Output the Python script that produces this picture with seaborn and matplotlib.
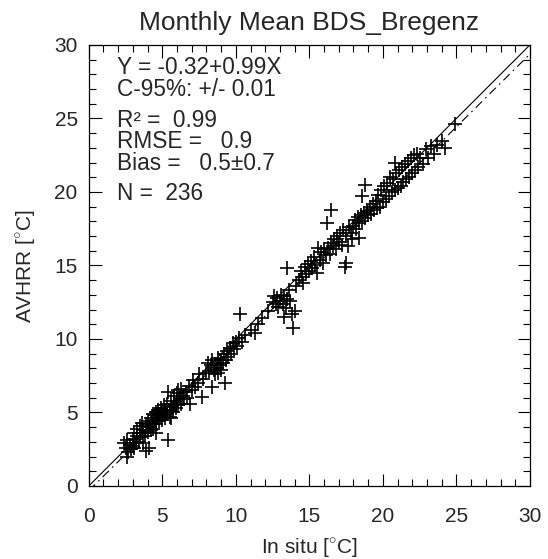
import numpy as np
import pandas as pd
import matplotlib
matplotlib.use("Agg")
import matplotlib.pyplot as plt
from matplotlib.ticker import MultipleLocator
import seaborn as sns

# In situ vs AVHRR monthly means (deg C)
in_situ = [
    # cluster around 2-4
    2.4, 2.5, 2.6, 2.7, 2.8, 2.9, 3.0, 3.0, 3.1, 3.2, 3.3, 3.3, 3.4, 3.5, 3.5,
    3.6, 3.7, 3.7, 3.8, 3.9, 3.9, 4.0, 4.0, 2.6, 3.1, 3.6, 4.1,
    # 4-6.5
    4.1, 4.2, 4.2, 4.3, 4.4, 4.4, 4.5, 4.5, 4.6, 4.6, 4.7, 4.7, 4.8, 4.8, 4.9,
    4.9, 5.0, 5.0, 5.1, 5.1, 5.2, 5.2, 5.3, 5.3, 5.4, 5.4, 5.5, 5.5, 5.6, 5.6,
    5.7, 5.8, 5.8, 5.9, 6.0, 6.0, 6.1, 6.2, 6.3, 6.3, 6.4, 6.5, 5.6, 6.1, 4.6,
    # 6.5-8
    6.6, 6.7, 6.8, 7.0, 7.1, 7.2, 7.4, 7.5, 7.7, 7.8, 8.0, 6.9,
    # 8-10.5
    8.1, 8.2, 8.3, 8.4, 8.4, 8.5, 8.6, 8.6, 8.7, 8.8, 8.8, 8.9, 9.0, 9.0, 9.1,
    9.25, 9.2, 9.3, 9.4, 9.5, 9.6, 9.7, 9.8, 9.9, 10.0, 10.1, 10.2, 10.4, 10.3, 10.6,
    # 11-14
    11.0, 11.3, 11.5, 11.8, 12.2, 12.5, 12.7, 12.8, 12.9, 13.0, 13.1, 13.2, 13.3,
    13.4, 13.5, 13.5, 13.6, 13.7, 13.8, 13.9, 14.0, 14.1, 13.3, 12.6,
    # 14-16.5
    14.3, 14.4, 14.5, 14.6, 14.7, 14.8, 14.9, 15.0, 15.1, 15.2, 15.3, 15.4, 15.5,
    15.6, 15.7, 15.8, 15.9, 16.0, 16.1, 16.2, 16.3, 16.4, 16.5, 16.5,
    # 16.5-19.5
    16.6, 16.7, 16.8, 16.9, 17.0, 17.1, 17.2, 17.3, 17.4, 17.5, 17.6, 17.7, 17.8,
    17.9, 18.0, 18.1, 18.2, 18.3, 18.4, 18.4, 18.5, 18.6, 18.6, 18.7, 18.8, 18.8,
    18.9, 19.0, 19.1, 19.2, 19.3, 19.4, 19.5, 17.5,
    # 19.5-23.5
    19.6, 19.7, 19.8, 19.9, 20.0, 20.1, 20.2, 20.3, 20.4, 20.5, 20.6, 20.7, 20.8,
    20.8, 20.9, 21.0, 21.1, 21.2, 21.3, 21.4, 21.5, 21.6, 21.7, 21.8, 21.9, 22.0,
    22.1, 22.2, 22.3, 22.4, 22.5, 22.7, 22.9, 23.1, 23.3, 23.5,
    # top end
    23.7, 24.0, 24.2, 24.9,
]
avhrr = [
    2.9, 2.6, 3.1, 2.3, 2.8, 2.5, 3.2, 2.7, 3.6, 2.9, 3.4, 3.9, 3.0, 3.3, 4.1,
    3.6, 2.9, 3.8, 3.4, 4.2, 2.4, 3.7, 4.4, 2.0, 2.6, 4.3, 2.6,
    4.0, 4.6, 3.8, 4.3, 4.9, 3.9, 4.5, 4.8, 4.2, 5.0, 4.6, 5.2, 4.4, 4.9, 4.7,
    5.3, 4.5, 5.0, 4.8, 5.5, 4.6, 5.1, 4.9, 5.6, 6.4, 3.1, 5.2, 4.7, 5.8, 5.4,
    5.0, 5.6, 6.1, 5.3, 5.8, 6.3, 5.5, 6.0, 5.6, 6.6, 6.1, 5.9, 4.6, 6.5, 3.6,
    6.4, 6.0, 6.8, 6.5, 7.2, 6.7, 7.0, 7.6, 6.05, 7.3, 7.7, 5.6,
    8.4, 7.8, 8.2, 6.7, 8.6, 7.9, 8.3, 7.6, 8.0, 8.7, 7.7, 8.2, 7.9, 8.6, 8.4,
    7.0, 9.0, 8.6, 9.2, 8.8, 9.4, 9.0, 9.7, 9.3, 9.8, 9.5, 10.1, 9.8, 11.7, 10.3,
    10.6, 10.4, 11.0, 11.4, 11.9, 12.5, 12.4, 12.8, 12.2, 12.6, 13.0, 12.4, 12.9,
    12.1, 14.8, 12.7, 13.3, 12.6, 11.7, 10.75, 11.9, 13.6, 11.5, 12.9,
    14.0, 14.6, 14.2, 13.8, 14.9, 14.4, 15.1, 14.6, 15.3, 14.8, 15.6, 15.0, 14.5,
    16.2, 15.4, 15.9, 15.2, 16.1, 15.7, 17.9, 16.2, 15.8, 18.8, 16.5,
    16.3, 16.8, 16.1, 17.0, 16.6, 17.2, 16.4, 17.4, 14.9, 17.0, 16.3, 17.6, 17.2,
    16.8, 17.7, 18.1, 17.5, 18.3, 16.9, 17.9, 18.4, 19.7, 18.0, 18.6, 20.5, 18.2,
    18.7, 18.4, 19.0, 18.5, 19.2, 18.8, 19.4, 15.2,
    18.9, 19.8, 19.0, 20.1, 19.3, 20.4, 19.5, 20.6, 19.7, 21.0, 20.0, 20.9, 22.0,
    20.1, 21.3, 20.3, 21.5, 20.4, 21.7, 20.7, 21.9, 20.9, 22.1, 21.0, 22.3, 21.3,
    22.5, 21.5, 22.6, 21.7, 22.3, 21.9, 22.9, 22.3, 23.1, 22.6,
    23.2, 23.5, 23.0, 24.6,
]

# regression fit shown in the box
fit_intercept = -0.32
fit_slope = 0.99
axis_range = [0, 30]

stats_lines = [
    "Y = -0.32+0.99X",
    "C-95%: +/- 0.01",
    "R\u00b2 =  0.99",
    "RMSE =   0.9",
    "Bias =   0.5\u00b10.7",
    "N =  236",
]

df = pd.DataFrame({"insitu": in_situ, "avhrr": avhrr})

sns.set_style("ticks")
plt.rcParams["font.family"] = ["Liberation Sans", "DejaVu Sans"]
plt.rcParams["mathtext.fontset"] = "custom"
plt.rcParams["mathtext.rm"] = "Liberation Sans"

fig = plt.figure(figsize=(5.48, 5.59), dpi=100)
ax = fig.add_axes([0.162, 0.1306, 0.805, 0.789])

sns.scatterplot(
    x="insitu", y="avhrr", data=df, marker="+", s=115,
    color="black", linewidth=1.2, ax=ax, legend=False,
)

# 1:1 line and regression line
ax.plot(axis_range, axis_range, color="black", lw=0.8)
fit_x = np.array(axis_range)
ax.plot(fit_x, fit_intercept + fit_slope * fit_x, color="black", lw=0.8,
        linestyle=(0, (8, 4, 1.5, 4)))

ax.set_xlim(axis_range)
ax.set_ylim(axis_range)
ax.xaxis.set_major_locator(MultipleLocator(5))
ax.yaxis.set_major_locator(MultipleLocator(5))
ax.xaxis.set_minor_locator(MultipleLocator(1))
ax.yaxis.set_minor_locator(MultipleLocator(1))
ax.tick_params(which="both", direction="in", top=True, right=True,
               labelsize=15, color="black", width=0.8)
ax.tick_params(which="major", length=9)
ax.tick_params(which="minor", length=5)
ax.tick_params(axis="x", which="major", pad=15)
ax.tick_params(axis="y", which="major", pad=8)
for sp in ax.spines.values():
    sp.set_linewidth(0.9)
    sp.set_color("black")

ax.set_xlabel("In situ [$^{\\circ}$C]", fontsize=15, labelpad=8)
ax.set_ylabel("AVHRR [$^{\\circ}$C]", fontsize=15, labelpad=12)
ax.set_title("Monthly Mean BDS_Bregenz", fontsize=19, pad=11)

# statistics text block
y_pos = [0.975, 0.925, 0.855, 0.807, 0.757, 0.689]
for txt, yp in zip(stats_lines, y_pos):
    ax.text(0.063, yp, txt, transform=ax.transAxes, fontsize=16.3,
            va="top", ha="left")

fig.savefig("out.png", dpi=100)
